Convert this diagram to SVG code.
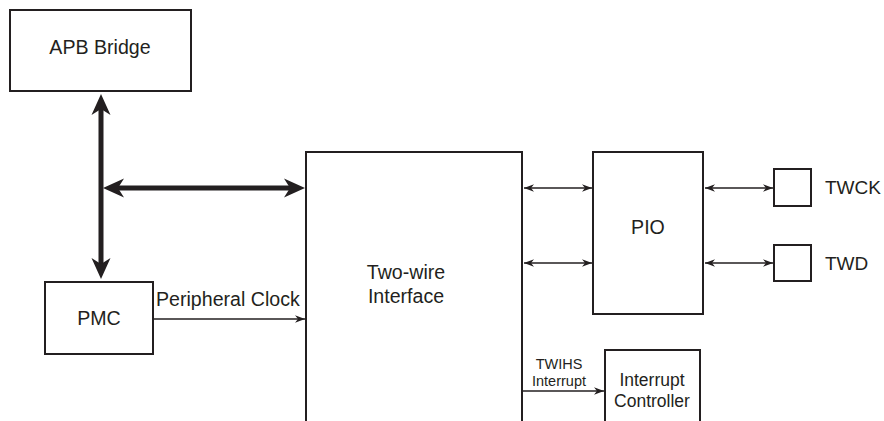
<svg xmlns="http://www.w3.org/2000/svg" width="884" height="421" viewBox="0 0 884 421">
<style>
.box{fill:#fff;stroke:#231f20;stroke-width:2}
.t{font-family:"Liberation Sans",Arial,sans-serif;fill:#231f20;text-anchor:middle}
.big{font-size:19.6px}
.thick{stroke:#231f20;stroke-width:5;fill:none}
.thin{stroke:#231f20;stroke-width:1.3;fill:none}
</style>
<defs>
<marker id="ah" markerUnits="userSpaceOnUse" viewBox="-10 -11 24 22" markerWidth="24" markerHeight="22" refX="0" refY="0" orient="auto-start-reverse" overflow="visible">
<path d="M12,0 L-9,-9.5 L-3,0 L-9,9.5 Z" fill="#231f20"/>
</marker>
<marker id="as" markerUnits="userSpaceOnUse" viewBox="-11 -5 12 10" markerWidth="12" markerHeight="10" refX="0" refY="0" orient="auto-start-reverse" overflow="visible">
<path d="M0,0 L-10,-3.8 L-7,0 L-10,3.8 Z" fill="#231f20"/>
</marker>
</defs>
<g id="apb"><rect class="box" x="10" y="10" width="181" height="81"/><text class="t big" x="100" y="54">APB Bridge</text></g>
<g id="pmc"><rect class="box" x="45" y="282" width="108" height="72"/><text class="t big" x="99" y="325">PMC</text></g>
<g id="twi"><rect class="box" x="306" y="152" width="216" height="280"/><text class="t big" x="406" y="279">Two-wire</text><text class="t big" x="406" y="303">Interface</text></g>
<g id="pio"><rect class="box" x="593" y="152" width="110" height="162"/><text class="t big" x="648" y="234">PIO</text></g>
<g id="twck"><rect class="box" x="774" y="169" width="37" height="37"/><text class="t" style="font-size:19px;text-anchor:start" x="825" y="194">TWCK</text></g>
<g id="twd"><rect class="box" x="774" y="245" width="37" height="36"/><text class="t" style="font-size:19px;text-anchor:start" x="825" y="270">TWD</text></g>
<g id="intc"><rect class="box" x="605" y="350" width="95" height="80"/><text class="t" style="font-size:17.5px" x="652" y="386">Interrupt</text><text class="t" style="font-size:17.5px" x="652" y="407">Controller</text></g>
<g id="connectors">
<line class="thick" x1="101" y1="106" x2="101" y2="267" marker-start="url(#ah)" marker-end="url(#ah)"/>
<line class="thick" x1="115" y1="188" x2="293" y2="188" marker-start="url(#ah)" marker-end="url(#ah)"/>
<line class="thin" x1="153" y1="319" x2="305" y2="319" marker-end="url(#as)"/>
<text class="t big" x="156" y="306" style="text-anchor:start">Peripheral Clock</text>
<line class="thin" x1="524" y1="188" x2="592" y2="188" marker-start="url(#as)" marker-end="url(#as)"/>
<line class="thin" x1="524" y1="263" x2="592" y2="263" marker-start="url(#as)" marker-end="url(#as)"/>
<line class="thin" x1="705" y1="188" x2="773" y2="188" marker-start="url(#as)" marker-end="url(#as)"/>
<line class="thin" x1="705" y1="263" x2="773" y2="263" marker-start="url(#as)" marker-end="url(#as)"/>
<line class="thin" x1="523" y1="391" x2="604" y2="391" marker-end="url(#as)"/>
<text class="t" style="font-size:14.5px" x="559" y="369">TWIHS</text>
<text class="t" style="font-size:14.5px" x="559" y="386">Interrupt</text>
</g>
</svg>
